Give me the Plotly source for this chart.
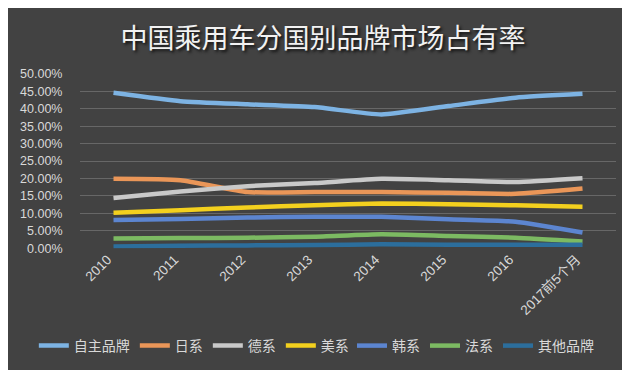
import plotly.graph_objects as go

categories = ["2010", "2011", "2012", "2013", "2014", "2015", "2016", "2017前5个月"]

zizhu = [0.446, 0.422, 0.413, 0.405, 0.384, 0.408, 0.432, 0.443]
rixi = [0.199, 0.195, 0.161, 0.161, 0.161, 0.159, 0.156, 0.171]
dexi = [0.144, 0.163, 0.178, 0.187, 0.199, 0.195, 0.190, 0.201]
meixi = [0.102, 0.109, 0.117, 0.123, 0.128, 0.126, 0.123, 0.119]
hanxi = [0.081, 0.084, 0.088, 0.090, 0.090, 0.083, 0.076, 0.045]
faxi = [0.028, 0.029, 0.030, 0.033, 0.040, 0.035, 0.030, 0.019]
qita = [0.005, 0.007, 0.008, 0.009, 0.011, 0.010, 0.010, 0.010]

series_names = ["自主品牌", "日系", "德系", "美系", "韩系", "法系", "其他品牌"]
series_values = [zizhu, rixi, dexi, meixi, hanxi, faxi, qita]
colors = ["#7db3e3", "#ea9658", "#c9c9c9", "#f3d01e", "#5c85d0", "#7cba62", "#2c6e9c"]
legend_groups = ["legend", "legend", "legend", "legend", "legend2", "legend2", "legend2"]

ytick_vals = [i * 0.05 for i in range(11)]
ytick_text = [f"{v*100:.2f}%" for v in ytick_vals]

fig = go.Figure()
for name, vals, col, lg in zip(series_names, series_values, colors, legend_groups):
    fig.add_trace(go.Scatter(
        x=categories, y=vals, name=name, mode="lines", legend=lg,
        line=dict(color=col, width=4.5, shape="spline", smoothing=0.5),
    ))

legend_common = dict(
    orientation="h", xref="container", xanchor="left",
    yref="container", y=1 - 338 / 370, yanchor="middle",
    font=dict(size=14, color="#d9d9d9", family="Noto Sans CJK SC, sans-serif"),
    bgcolor="rgba(0,0,0,0)", itemwidth=30, tracegroupgap=0,
)

fig.update_layout(
    width=630, height=370,
    margin=dict(l=65, r=22, t=66, b=128),
    paper_bgcolor="#424242",
    plot_bgcolor="rgba(0,0,0,0)",
    font=dict(family="Noto Sans CJK SC, Liberation Sans, sans-serif", color="#d9d9d9", size=12),
    title=dict(
        text="中国乘用车分国别品牌市场占有率",
        x=0.5, xref="container", xanchor="center",
        y=1 - 31 / 370, yref="container", yanchor="middle",
        font=dict(size=27, color="#f2f2f2", family="Noto Sans CJK SC, sans-serif",
                  shadow="2px 2px 3px #111111"),
    ),
    xaxis=dict(
        type="category", range=[-0.5, 7.5],
        tickangle=-45, tickfont=dict(size=13.5, color="#d9d9d9", family="Liberation Sans, Noto Sans CJK SC, sans-serif"),
        showgrid=False, zeroline=False, showline=False, ticks="",
        ticklabelshift=-6,
    ),
    yaxis=dict(
        range=[0, 0.5], tickvals=ytick_vals, ticktext=ytick_text,
        tickfont=dict(size=12.5, color="#d9d9d9", family="Liberation Sans, sans-serif"),
        showgrid=True, gridcolor="rgba(255,255,255,0.2)", gridwidth=1,
        zeroline=False, showline=False,
        ticks="outside", ticklen=14, tickcolor="rgba(0,0,0,0)",
    ),
    legend=dict(x=0.041, **legend_common),
    legend2=dict(x=0.546, **legend_common),
    showlegend=True,
)

fig.write_html("out.html")
